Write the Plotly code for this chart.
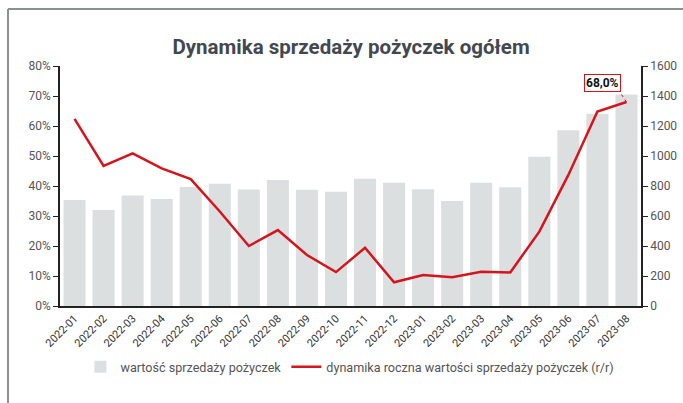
import plotly.graph_objects as go

months = ["2022-01", "2022-02", "2022-03", "2022-04", "2022-05", "2022-06", "2022-07",
          "2022-08", "2022-09", "2022-10", "2022-11", "2022-12", "2023-01", "2023-02",
          "2023-03", "2023-04", "2023-05", "2023-06", "2023-07", "2023-08"]
sales_value = [707, 640, 737, 713, 793, 815, 777, 840, 775, 762, 848, 822, 778, 700,
               822, 792, 995, 1172, 1282, 1410]
yoy_dynamics = [62.4, 46.7, 50.9, 45.9, 42.3, 31.5, 20.0, 25.3, 17.0, 11.3, 19.4, 7.9,
                10.3, 9.6, 11.4, 11.2, 24.8, 43.7, 64.8, 68.0]
left_ticks = [0, 10, 20, 30, 40, 50, 60, 70, 80]
left_labels = ["0%", "10%", "20%", "30%", "40%", "50%", "60%", "70%", "80%"]
right_ticks = [0, 200, 400, 600, 800, 1000, 1200, 1400, 1600]

bar_name = "wartość sprzedaży pożyczek"
line_name = "dynamika roczna wartości sprzedaży pożyczek (r/r)"
title_text = "Dynamika sprzedaży pożyczek ogółem"
label_text = "68,0%"

RED = "#d5141c"
BAR = "#dcdfe0"
FONT = "Roboto"

fig = go.Figure()
fig.add_trace(go.Bar(x=months, y=sales_value, name=bar_name, marker_color=BAR,
                     marker_line_width=0, yaxis="y"))
fig.add_trace(go.Scatter(x=months, y=yoy_dynamics, name=line_name, mode="lines",
                         line=dict(color=RED, width=2.5), yaxis="y2"))

axis_common = dict(showgrid=False, zeroline=False, showline=True, linecolor="#222",
                   linewidth=1.5, ticks="outside", ticklen=5, tickcolor="#222",
                   tickfont=dict(family=FONT, size=12, color="#555"))

fig.update_layout(
    width=683, height=403,
    margin=dict(l=60, r=42, t=66, b=97, autoexpand=False),
    paper_bgcolor="white", plot_bgcolor="white",
    title=dict(text=title_text, x=0.514, xanchor="center", y=0.883, yanchor="middle",
               font=dict(family=FONT, size=20.5, color="#42484e", weight="bold")),
    bargap=0.24,
    xaxis=dict(type="category", showgrid=False, showline=True, linecolor="#222",
               linewidth=1.5, ticks="", tickangle=-45,
               tickfont=dict(family=FONT, size=11, color="#333")),
    yaxis=dict(side="right", range=[0, 1600], tickmode="array", tickvals=right_ticks,
               **axis_common),
    yaxis2=dict(side="left", overlaying="y", range=[0, 80], tickmode="array",
                tickvals=left_ticks, ticktext=left_labels, **axis_common),
    legend=dict(orientation="h", x=0.499, xanchor="center", y=-0.254, yanchor="middle",
                font=dict(family=FONT, size=12.6, color="#555"), itemwidth=30,
                tracegroupgap=0),
    showlegend=True,
)

fig.add_annotation(x=months[-1], y=yoy_dynamics[-1], yref="y2", text="<b>" + label_text + "</b>",
                   showarrow=False, xshift=-24, yshift=19,
                   font=dict(family=FONT, size=12, color="#111"),
                   bgcolor="white", bordercolor=RED, borderwidth=1, borderpad=1)
fig.add_shape(type="line", xref="x", yref="y2", xsizemode="pixel", ysizemode="pixel",
              xanchor=months[-1], yanchor=yoy_dynamics[-1], x0=0, y0=0, x1=-8, y1=12,
              line=dict(color=RED, width=1, dash="dot"))

# outer frame (left and top edges)
fig.add_shape(type="line", xref="paper", yref="paper", x0=-0.0895, x1=-0.0895,
              y0=1.2375, y1=-0.42, line=dict(color="#8c9091", width=2))
fig.add_shape(type="line", xref="paper", yref="paper", x0=-0.0895, x1=1.08,
              y0=1.2375, y1=1.2375, line=dict(color="#8c9091", width=2))

fig.write_html("out.html", config={"displayModeBar": False},
               post_script="document.body.style.margin='0';")
